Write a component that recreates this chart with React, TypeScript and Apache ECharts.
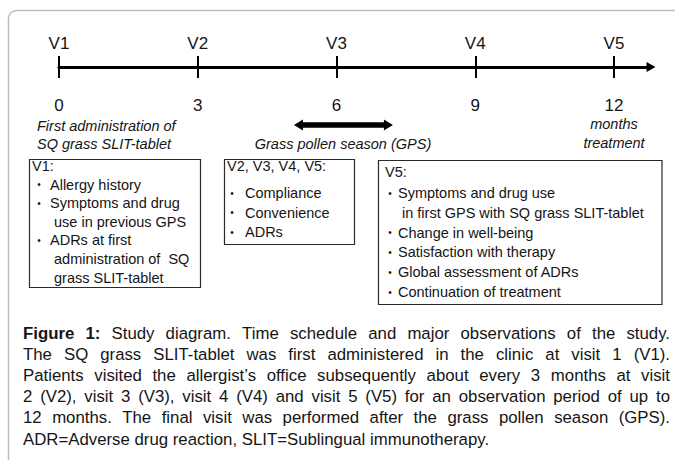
import React, { useEffect, useRef } from 'react';
import * as echarts from 'echarts';

// ---- data ----
const months = [0, 3, 6, 9, 12];
const visits = ['V1', 'V2', 'V3', 'V4', 'V5'];
const axisMax = 12.8;
const gpsSpan = [5.08, 7.22];
const firstAdminLines = ['First administration of', 'SQ grass SLIT-tablet'];
const gpsLabel = 'Grass pollen season (GPS)';
const endLabel = ['months', 'treatment'];

const box1Title = 'V1:';
const box1Items = [
  ['Allergy history'],
  ['Symptoms and drug', 'use in previous GPS'],
  ['ADRs at first', 'administration of  SQ', 'grass SLIT-tablet'],
];
const box2Title = 'V2, V3, V4, V5:';
const box2Items = [['Compliance'], ['Convenience'], ['ADRs']];
const box3Title = 'V5:';
const box3Items = [
  ['Symptoms and drug use', 'in first GPS with SQ grass SLIT-tablet'],
  ['Change in well-being'],
  ['Satisfaction with therapy'],
  ['Global assessment of ADRs'],
  ['Continuation of treatment'],
];

const captionBold = ['Figure', '1:'];
const captionLines = [
  'Figure 1: Study diagram. Time schedule and major observations of the study.',
  'The SQ grass SLIT-tablet was first administered in the clinic at visit 1 (V1).',
  'Patients visited the allergist\u2019s office subsequently about every 3 months at visit',
  '2 (V2), visit 3 (V3), visit 4 (V4) and visit 5 (V5) for an observation period of up to',
  '12 months. The final visit was performed after the grass pollen season (GPS).',
  'ADR=Adverse drug reaction, SLIT=Sublingual immunotherapy.',
];

// ---- styling ----
const FONT = '"Liberation Sans", Arial, Helvetica, sans-serif';
const INK = '#151515';

type Box = {
  x: number; y: number; w: number; h: number;
  titleX: number; titleY: number;
  bulletX: number; textX: number; contX: number;
  firstY: number; step: number;
  title: string; items: string[][];
};

function boxElements(b: Box): any[] {
  const els: any[] = [];
  els.push({
    type: 'rect',
    shape: { x: b.x, y: b.y, width: b.w, height: b.h },
    style: { fill: '#fff', stroke: '#2a2a2a', lineWidth: 1.2 },
  });
  els.push({
    type: 'text', x: b.titleX, y: b.titleY,
    style: { text: b.title, fontSize: 14.5, fontFamily: FONT, fill: INK, verticalAlign: 'middle', align: 'left' },
  });
  let line = 0;
  b.items.forEach((item) => {
    item.forEach((t, j) => {
      const y = b.firstY + line * b.step;
      if (j === 0) {
        els.push({
          type: 'text', x: b.bulletX, y,
          style: { text: '\u2022', fontSize: 10, fontFamily: FONT, fill: INK, verticalAlign: 'middle', align: 'center' },
        });
      }
      els.push({
        type: 'text', x: j === 0 ? b.textX : b.contX, y,
        style: { text: t, fontSize: 14.5, fontFamily: FONT, fill: INK, verticalAlign: 'middle', align: 'left' },
      });
      line++;
    });
  });
  return els;
}

function captionElements(): any[] {
  const canvas = document.createElement('canvas');
  const ctx = canvas.getContext('2d')!;
  const size = 16.8;
  const left = 23;
  const right = 670;
  const top = 333;
  const lh = 21.2;
  const els: any[] = [];
  const measure = (t: string, bold: boolean) => {
    ctx.font = `${bold ? 'bold ' : ''}${size}px ${FONT}`;
    return ctx.measureText(t).width;
  };
  const space = measure(' ', false);
  captionLines.forEach((ln, i) => {
    const words = ln.split(' ');
    const bolds = words.map((w, k) => i === 0 && k < captionBold.length && captionBold[k] === w);
    const widths = words.map((w, k) => measure(w, bolds[k]));
    const sum = widths.reduce((a, c) => a + c, 0);
    const justify = i < captionLines.length - 1;
    let gap = justify ? (right - left - sum) / (words.length - 1) : space;
    if (gap < space * 0.6) gap = space * 0.6;
    let x = left;
    const y = top + i * lh;
    words.forEach((w, k) => {
      els.push({
        type: 'text', x, y,
        style: {
          text: w, fontSize: size, fontFamily: FONT, fontWeight: bolds[k] ? 'bold' : 'normal',
          fill: INK, verticalAlign: 'middle', align: 'left',
        },
      });
      x += widths[k] + gap;
    });
  });
  return els;
}

export default function App() {
  const ref = useRef<HTMLDivElement>(null);
  useEffect(() => {
    document.body.style.margin = '0';
    const chart = echarts.init(ref.current!, null, { renderer: 'svg' });
    const lastIdx = months.length - 1;

    const graphics: any[] = [
      {
        type: 'rect', z: -1,
        shape: { x: 8.5, y: 10.5, width: 760, height: 560, r: 8 },
        style: { fill: 'none', stroke: '#bcbcbc', lineWidth: 1.5 },
      },
      ...firstAdminLines.map((t, i) => ({
        type: 'text', x: 37, y: 126 + i * 17.5,
        style: { text: t, fontSize: 14.5, fontStyle: 'italic', fontFamily: FONT, fill: INK, verticalAlign: 'middle', align: 'left' },
      })),
      {
        type: 'text', x: 343, y: 143.5,
        style: { text: gpsLabel, fontSize: 14.5, fontStyle: 'italic', fontFamily: FONT, fill: INK, verticalAlign: 'middle', align: 'center' },
      },
      ...boxElements({
        x: 29.5, y: 159.5, w: 171, h: 128, titleX: 32, titleY: 166,
        bulletX: 39, textX: 50, contX: 54, firstY: 184.5, step: 18.6,
        title: box1Title, items: box1Items,
      }),
      ...boxElements({
        x: 224.5, y: 159.5, w: 130, h: 85, titleX: 227, titleY: 166,
        bulletX: 232, textX: 245, contX: 245, firstY: 193, step: 19.5,
        title: box2Title, items: box2Items,
      }),
      ...boxElements({
        x: 378.5, y: 160.5, w: 283.5, h: 144, titleX: 385, titleY: 172,
        bulletX: 390, textX: 398, contX: 402, firstY: 193, step: 19.8,
        title: box3Title, items: box3Items,
      }),
      ...captionElements(),
    ];

    const baseAxis = {
      type: 'value' as const,
      min: 0,
      max: axisMax,
      interval: 3,
      splitLine: { show: false },
    };

    chart.setOption({
      animation: false,
      backgroundColor: '#ffffff',
      grid: { left: 59, top: 67, width: 592, height: 0, outerBoundsMode: 'none', containLabel: false },
      xAxis: [
        {
          ...baseAxis,
          position: 'bottom',
          axisLine: {
            show: true,
            symbol: ['none', 'triangle'],
            symbolSize: [10, 9],
            lineStyle: { color: '#000', width: 3 },
          },
          axisTick: { show: true, length: 11, customValues: months, lineStyle: { color: '#000', width: 2 } },
          axisLabel: {
            customValues: months,
            margin: 28,
            color: INK,
            fontFamily: FONT,
            formatter: (v: number) => {
              const idx = months.indexOf(v);
              if (idx === lastIdx) return `{n|${v}}\n{i|${endLabel[0]}}\n{i|${endLabel[1]}}`;
              return `{n|${v}}`;
            },
            rich: {
              n: { fontSize: 17, lineHeight: 20, fontFamily: FONT, color: INK },
              i: { fontSize: 14.5, lineHeight: 18.5, fontStyle: 'italic', fontFamily: FONT, color: INK },
            },
          },
        },
        {
          ...baseAxis,
          position: 'top',
          axisLine: { show: false },
          axisTick: { show: true, length: 11, customValues: months, lineStyle: { color: '#000', width: 2 } },
          axisLabel: {
            customValues: months,
            margin: 14,
            fontSize: 17,
            lineHeight: 20,
            color: INK,
            fontFamily: FONT,
            formatter: (v: number) => visits[months.indexOf(v)] ?? '',
          },
        },
      ],
      yAxis: { type: 'value', show: false, min: 0, max: 1 },
      series: [
        {
          type: 'custom',
          name: 'Grass pollen season',
          xAxisIndex: 0,
          yAxisIndex: 0,
          clip: false,
          data: [gpsSpan],
          renderItem: (_p: any, api: any) => {
            const x1 = api.coord([api.value(0), 0])[0];
            const x2 = api.coord([api.value(1), 0])[0];
            const y = 125;
            const hl = 9, hh = 5.5, bh = 2.8;
            return {
              type: 'polygon',
              shape: {
                points: [
                  [x1, y], [x1 + hl, y - hh], [x1 + hl, y - bh], [x2 - hl, y - bh], [x2 - hl, y - hh],
                  [x2, y], [x2 - hl, y + hh], [x2 - hl, y + bh], [x1 + hl, y + bh], [x1 + hl, y + hh],
                ],
              },
              style: { fill: '#000' },
            };
          },
        },
      ],
      graphic: graphics,
    });
    return () => chart.dispose();
  }, []);
  return (
    <div
      ref={ref}
      style={{ position: 'absolute', left: 0, top: 0, width: 675, height: 460, background: '#fff' }}
    />
  );
}
